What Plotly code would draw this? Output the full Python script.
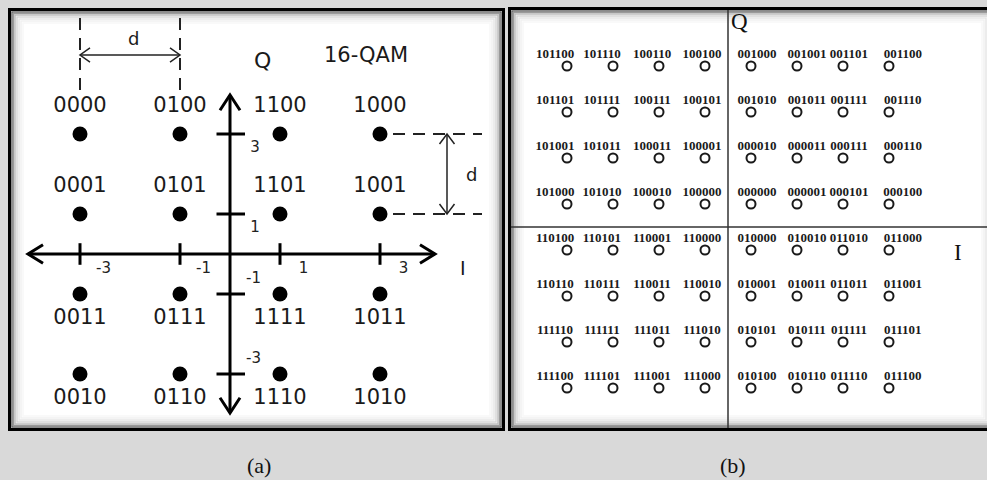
import plotly.graph_objects as go

# ---------------- data : panel (a) 16-QAM ----------------
qam16_levels_I = [-3, -1, 1, 3]
qam16_levels_Q = [3, 1, -1, -3]
qam16_labels = [
    ["0000", "0100", "1100", "1000"],
    ["0001", "0101", "1101", "1001"],
    ["0011", "0111", "1111", "1011"],
    ["0010", "0110", "1110", "1010"],
]
qam16_tick_values = [-3, -1, 1, 3]
qam16_tick_labels = ["-3", "-1", "1", "3"]

# ---------------- data : panel (b) 64-QAM ----------------
qam64_levels_I = [-7, -5, -3, -1, 1, 3, 5, 7]
qam64_levels_Q = [7, 5, 3, 1, -1, -3, -5, -7]
qam64_labels = [
    ["101100", "101110", "100110", "100100", "001000", "001001", "001101", "001100"],
    ["101101", "101111", "100111", "100101", "001010", "001011", "001111", "001110"],
    ["101001", "101011", "100011", "100001", "000010", "000011", "000111", "000110"],
    ["101000", "101010", "100010", "100000", "000000", "000001", "000101", "000100"],
    ["110100", "110101", "110001", "110000", "010000", "010010", "011010", "011000"],
    ["110110", "110111", "110011", "110010", "010001", "010011", "011011", "011001"],
    ["111110", "111111", "111011", "111010", "010101", "010111", "011111", "011101"],
    ["111100", "111101", "111001", "111000", "010100", "010110", "011110", "011100"],
]

# ---------------- layout constants ----------------
W, H = 987, 480
BG = "#d9d9d9"
SANS = "DejaVu Sans, Arial, sans-serif"
SERIF = "Liberation Serif, Times New Roman, serif"

# pixel geometry of the two panels
A_BOX = (8, 8, 505, 431)      # x0, y0, x1, y1 (pixels, top-left origin)
B_BOX = (508, 7, 997, 431)
A_ORIGIN, A_SX, A_SY = (230, 254), 50.0, 40.0   # px per unit
B_ORIGIN, B_SX, B_SY = (728, 227), 23.0, 23.0

def px(x):
    return x / W

def py(y):
    return 1 - y / H

fig = go.Figure()
shapes = []
annotations = []

# ---------------- panel boxes ----------------
def panel_box(box):
    x0, y0, x1, y1 = box
    shapes.append(dict(type="rect", xref="paper", yref="paper", layer="below",
                       x0=px(x0 + 1.5), x1=px(x1 - 1.5), y0=py(y0 + 1.5), y1=py(y1 - 1.5),
                       fillcolor="white", line=dict(color="black", width=3)))
    for inset, col in [(4, "#666666"), (5.5, "#9a9a9a"), (7, "#bdbdbd"), (9, "#d6d6d6"),
                       (11, "#e6e6e6"), (13, "#f1f1f1"), (15, "#f8f8f8")]:
        shapes.append(dict(type="rect", xref="paper", yref="paper", layer="below",
                           x0=px(x0 + inset), x1=px(x1 - inset),
                           y0=py(y0 + inset), y1=py(y1 - inset),
                           line=dict(color=col, width=1.5)))

panel_box(A_BOX)
panel_box(B_BOX)

# ---------------- panel (a) ----------------
ax0, ay0, ax1, ay1 = A_BOX
fig.update_layout(
    xaxis=dict(domain=[px(ax0), px(ax1)],
               range=[(ax0 - A_ORIGIN[0]) / A_SX, (ax1 - A_ORIGIN[0]) / A_SX],
               visible=False, fixedrange=True),
    yaxis=dict(domain=[py(ay1), py(ay0)],
               range=[(A_ORIGIN[1] - ay1) / A_SY, (A_ORIGIN[1] - ay0) / A_SY],
               visible=False, fixedrange=True, anchor="x"),
)

def segA(x0, y0, x1, y1, width=3, color="black", dash=None):
    ln = dict(color=color, width=width)
    if dash:
        ln["dash"] = dash
    shapes.append(dict(type="line", xref="x", yref="y", x0=x0, y0=y0, x1=x1, y1=y1, line=ln))

def chevron(xref, yref, pts, width=3, color="black"):
    (xa, ya), (xb, yb), (xc, yc) = pts
    shapes.append(dict(type="path", xref=xref, yref=yref,
                       path=f"M {xa},{ya} L {xb},{yb} L {xc},{yc}",
                       line=dict(color=color, width=width)))

# axes with arrows
h_left, h_right = (28 - A_ORIGIN[0]) / A_SX, (435 - A_ORIGIN[0]) / A_SX
v_top, v_bot = (A_ORIGIN[1] - 95) / A_SY, (A_ORIGIN[1] - 413) / A_SY
segA(h_left, 0, h_right, 0)
segA(0, v_bot, 0, v_top)
chevron("x", "y", [(h_left + 0.3, 0.23), (h_left, 0), (h_left + 0.3, -0.23)])
chevron("x", "y", [(h_right - 0.3, 0.23), (h_right, 0), (h_right - 0.3, -0.23)])
chevron("x", "y", [(-0.2, v_top - 0.38), (0, v_top), (0.2, v_top - 0.38)])
chevron("x", "y", [(-0.2, v_bot + 0.38), (0, v_bot), (0.2, v_bot + 0.38)])

# tick marks
for t in qam16_tick_values:
    segA(t, -0.27, t, 0.27)
    segA(-0.27, t, 0.3, t)

# tick labels (I axis and Q axis)
fig.add_trace(go.Scatter(
    x=[t + 0.47 for t in qam16_tick_values], y=[-0.37] * len(qam16_tick_values),
    mode="text", text=qam16_tick_labels,
    textfont=dict(family=SANS, size=15, color="#222"), hoverinfo="skip", showlegend=False,
    xaxis="x", yaxis="y"))
fig.add_trace(go.Scatter(
    x=[0.5 if t > 0 else 0.47 for t in qam16_tick_values],
    y=[t - 0.35 if t > 0 else t + 0.38 for t in qam16_tick_values],
    mode="text", text=qam16_tick_labels,
    textfont=dict(family=SANS, size=15, color="#222"), hoverinfo="skip", showlegend=False,
    xaxis="x", yaxis="y"))

# constellation points
pts_x, pts_y, lab_x, lab_y, lab_t = [], [], [], [], []
for r, q in enumerate(qam16_levels_Q):
    for c, i in enumerate(qam16_levels_I):
        pts_x.append(i)
        pts_y.append(q)
        lab_x.append(i)
        lab_y.append(q + 0.68 if q > 0 else q - 0.63)
        lab_t.append(qam16_labels[r][c])
fig.add_trace(go.Scatter(x=pts_x, y=pts_y, mode="markers",
                         marker=dict(size=15, color="black", line=dict(width=0)),
                         hoverinfo="skip", showlegend=False, xaxis="x", yaxis="y"))
fig.add_trace(go.Scatter(x=lab_x, y=lab_y, mode="text", text=lab_t,
                         textfont=dict(family=SANS, size=21, color="#1a1a1a"),
                         hoverinfo="skip", showlegend=False, xaxis="x", yaxis="y"))

# distance "d" annotations
d_top, d_bot = (A_ORIGIN[1] - 15) / A_SY, (A_ORIGIN[1] - 90) / A_SY
for xv in qam16_levels_I[:2]:
    segA(xv, d_bot, xv, d_top, width=2, color="#222", dash="12px,8px")
yarr = (A_ORIGIN[1] - 55) / A_SY
x_a, x_b = qam16_levels_I[0], qam16_levels_I[1]
segA(x_a, yarr, x_b, yarr, width=1.5, color="#222")
chevron("x", "y", [(x_a + 0.2, yarr + 0.18), (x_a, yarr), (x_a + 0.2, yarr - 0.18)], width=1.5, color="#222")
chevron("x", "y", [(x_b - 0.2, yarr + 0.18), (x_b, yarr), (x_b - 0.2, yarr - 0.18)], width=1.5, color="#222")

hx0, hx1 = (393 - A_ORIGIN[0]) / A_SX, (482 - A_ORIGIN[0]) / A_SX
for yv in qam16_levels_Q[:2]:
    segA(hx0, yv, hx1, yv, width=2, color="#222", dash="12px,8px")
xarr = (447 - A_ORIGIN[0]) / A_SX
y_a, y_b = qam16_levels_Q[0], qam16_levels_Q[1]
segA(xarr, y_a, xarr, y_b, width=1.5, color="#222")
chevron("x", "y", [(xarr - 0.15, y_a - 0.25), (xarr, y_a), (xarr + 0.15, y_a - 0.25)], width=1.5, color="#222")
chevron("x", "y", [(xarr - 0.15, y_b + 0.25), (xarr, y_b), (xarr + 0.15, y_b + 0.25)], width=1.5, color="#222")

def txt(x, y, s, size, family=SANS, xref="x", yref="y", color="#1a1a1a"):
    annotations.append(dict(x=x, y=y, xref=xref, yref=yref, text=s, showarrow=False,
                            font=dict(family=family, size=size, color=color),
                            xanchor="center", yanchor="middle"))

txt((133 - A_ORIGIN[0]) / A_SX, (A_ORIGIN[1] - 38) / A_SY, "d", 18)
txt((471 - A_ORIGIN[0]) / A_SX, (A_ORIGIN[1] - 174) / A_SY, "d", 18)
txt((262 - A_ORIGIN[0]) / A_SX, (A_ORIGIN[1] - 60) / A_SY, "Q", 22)
txt((366 - A_ORIGIN[0]) / A_SX, (A_ORIGIN[1] - 55) / A_SY, "16-QAM", 21)
txt((463 - A_ORIGIN[0]) / A_SX, (A_ORIGIN[1] - 268) / A_SY, "I", 19)

# ---------------- panel (b) ----------------
bx0, by0, bx1, by1 = B_BOX
fig.update_layout(
    xaxis2=dict(domain=[px(bx0), 1.0],
                range=[(bx0 - B_ORIGIN[0]) / B_SX, (W - B_ORIGIN[0]) / B_SX],
                visible=False, fixedrange=True, anchor="y2"),
    yaxis2=dict(domain=[py(by1), py(by0)],
                range=[(B_ORIGIN[1] - by1) / B_SY, (B_ORIGIN[1] - by0) / B_SY],
                visible=False, fixedrange=True, anchor="x2"),
)

# quadrant dividing axes
shapes.append(dict(type="line", xref="x2", yref="y2",
                   x0=(bx0 + 3 - B_ORIGIN[0]) / B_SX, x1=(W - B_ORIGIN[0]) / B_SX, y0=0, y1=0,
                   line=dict(color="#333", width=1.5)))
shapes.append(dict(type="line", xref="x2", yref="y2", x0=0, x1=0,
                   y0=(B_ORIGIN[1] - by0 - 3) / B_SY, y1=(B_ORIGIN[1] - by1 + 3) / B_SY,
                   line=dict(color="#333", width=1.5)))

col_offsets = [-0.52, -0.48, -0.3, -0.13, 0.26, 0.43, 0.26, 0.6]
bx, by, blx, bly, blt = [], [], [], [], []
for r, q in enumerate(qam64_levels_Q):
    for c, i in enumerate(qam64_levels_I):
        bx.append(i)
        by.append(q)
        blx.append(i + col_offsets[c])
        bly.append(q + 0.47)
        blt.append(qam64_labels[r][c])
fig.add_trace(go.Scatter(x=bx, y=by, mode="markers",
                         marker=dict(symbol="circle-open", size=9, color="#1a1a1a",
                                     line=dict(width=2, color="#1a1a1a")),
                         hoverinfo="skip", showlegend=False, xaxis="x2", yaxis="y2"))
fig.add_trace(go.Scatter(x=blx, y=bly, mode="text", text=blt,
                         textfont=dict(family=SERIF, size=13, color="#1a1a1a", weight="bold"),
                         hoverinfo="skip", showlegend=False, xaxis="x2", yaxis="y2"))

txt(0.52, (B_ORIGIN[1] - 22) / B_SY, "Q", 23, family=SERIF, xref="x2", yref="y2", color="#111")
txt((958 - B_ORIGIN[0]) / B_SX, (B_ORIGIN[1] - 253) / B_SY, "I", 23, family=SERIF,
    xref="x2", yref="y2", color="#111")

# ---------------- captions ----------------
txt(px(259), py(465), "(a)", 22, family=SERIF, xref="paper", yref="paper", color="#111")
txt(px(733), py(465), "(b)", 22, family=SERIF, xref="paper", yref="paper", color="#111")

fig.update_layout(
    width=W, height=H,
    margin=dict(l=0, r=0, t=0, b=0),
    paper_bgcolor=BG, plot_bgcolor="rgba(0,0,0,0)",
    shapes=shapes, annotations=annotations,
    showlegend=False,
)

fig.write_html("out.html", config={"displayModeBar": False},
               post_script="document.body.style.margin='0';document.body.style.overflow='hidden';")
